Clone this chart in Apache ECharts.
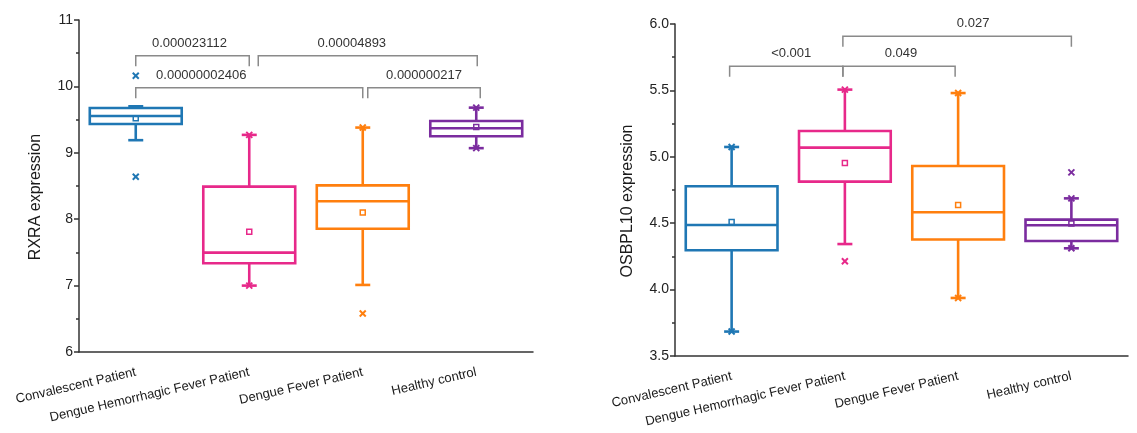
<!DOCTYPE html>
<html>
<head>
<meta charset="utf-8">
<script src="https://cdn.jsdelivr.net/npm/echarts@6/dist/echarts.min.js"></script>
<style>
  html, body { margin: 0; padding: 0; background: #fff; }
  #chart { width: 1137px; height: 433px; }
</style>
</head>
<body>
<div id="chart"></div>
<script>
const categories = ['Convalescent Patient', 'Dengue Hemorrhagic Fever Patient', 'Dengue Fever Patient', 'Healthy control'];
const colors = ['#1f77b4', '#e7298a', '#ff7f0e', '#7b2c9f'];

// per group: [lower whisker, Q1, median, Q3, upper whisker, mean]
const rxraBoxes = [
  [9.19, 9.434, 9.554, 9.675, 9.70, 9.52],
  [7.00, 7.336, 7.496, 8.49, 9.27, 7.81],
  [7.01, 7.857, 8.27, 8.51, 9.38, 8.10],
  [9.07, 9.25, 9.37, 9.48, 9.68, 9.39]
];
// x markers: [group, value]
const rxraMarks = [[0, 10.16], [0, 8.64], [1, 9.27], [1, 7.0], [2, 9.38], [2, 6.58], [3, 9.68], [3, 9.07]];
const rxraBrackets = [
  { from: 0, to: 1, level: 10.46, text: '0.000023112' },
  { from: 1, to: 3, level: 10.46, text: '0.00004893' },
  { from: 0, to: 2, level: 9.98, text: '0.00000002406' },
  { from: 2, to: 3, level: 9.98, text: '0.000000217' }
];

const osbBoxes = [
  [3.684, 4.296, 4.487, 4.778, 5.074, 4.509],
  [4.343, 4.813, 5.069, 5.194, 5.506, 4.953],
  [3.937, 4.377, 4.582, 4.931, 5.480, 4.637],
  [4.311, 4.366, 4.484, 4.527, 4.687, 4.497]
];
const osbMarks = [[0, 5.074], [0, 3.684], [1, 5.506], [1, 4.213], [2, 5.480], [2, 3.937], [3, 4.687], [3, 4.311], [3, 4.883]];
const osbBrackets = [
  { from: 0, to: 1, level: 5.681, text: '<0.001' },
  { from: 1, to: 2, level: 5.681, text: '0.049' },
  { from: 1, to: 3, level: 5.907, text: '0.027' }
];

const FONT = 'Liberation Sans, Arial, sans-serif';

// small pixel nudges for bracket legs / labels
const rxraLegNudge = [[0, 0], [9, 1], [0, 0], [5, 4]];
const rxraTextNudge = [-3, -16, -48, 0];
const osbLegNudge = [[-2, -2], [-2, -3], [-2, 0]];
const osbTextNudge = [5, 2, 16];

function boxRenderer(boxes) {
  return function (params, api) {
    const i = params.dataIndex;
    const b = boxes[i];
    const c = colors[i];
    const bw = api.size([1, 0])[0] * 0.81;
    const x = api.coord([i, b[2]])[0];
    const y = v => api.coord([i, v])[1];
    const st = { stroke: c, lineWidth: 2.6, fill: 'none' };
    const line = (x1, y1, x2, y2) => ({ type: 'line', shape: { x1, y1, x2, y2 }, style: st });
    const cap = 7.5;
    return {
      type: 'group',
      children: [
        line(x, y(b[3]), x, y(b[4])),
        line(x, y(b[1]), x, y(b[0])),
        line(x - cap, y(b[4]), x + cap, y(b[4])),
        line(x - cap, y(b[0]), x + cap, y(b[0])),
        { type: 'rect', shape: { x: x - bw / 2, y: y(b[3]), width: bw, height: y(b[1]) - y(b[3]) }, style: st },
        line(x - bw / 2, y(b[2]), x + bw / 2, y(b[2])),
        { type: 'rect', shape: { x: x - 2.5, y: y(b[5]) - 2.5, width: 5, height: 5 }, style: { stroke: c, lineWidth: 1.5, fill: 'none' } }
      ]
    };
  };
}

function markRenderer(marks) {
  return function (params, api) {
    const m = marks[params.dataIndex];
    const p = api.coord(m);
    const c = colors[m[0]];
    const s = 3;
    const st = { stroke: c, lineWidth: 2 };
    return {
      type: 'group',
      children: [
        { type: 'line', shape: { x1: p[0] - s, y1: p[1] - s, x2: p[0] + s, y2: p[1] + s }, style: st },
        { type: 'line', shape: { x1: p[0] - s, y1: p[1] + s, x2: p[0] + s, y2: p[1] - s }, style: st }
      ]
    };
  };
}

function bracketRenderer(brackets, legNudge, textNudge) {
  return function (params, api) {
    const k = params.dataIndex;
    const b = brackets[k];
    const p0 = api.coord([b.from, b.level]);
    const p1 = api.coord([b.to, b.level]);
    const x0 = p0[0] + legNudge[k][0];
    const x1 = p1[0] + legNudge[k][1];
    const yt = p0[1];
    const leg = 10.5;
    const st = { stroke: '#8a8a8a', lineWidth: 1.5, fill: 'none' };
    return {
      type: 'group',
      children: [
        { type: 'polyline', shape: { points: [[x0, yt + leg], [x0, yt], [x1, yt], [x1, yt + leg]] }, style: st },
        { type: 'text', style: { text: b.text, x: (x0 + x1) / 2 + textNudge[k], y: yt - 12.5, align: 'center', verticalAlign: 'middle', font: '13px ' + FONT, fill: '#333' } }
      ]
    };
  };
}

function xAxisDef(gridIndex) {
  return {
    type: 'category',
    gridIndex,
    data: categories,
    boundaryGap: true,
    axisLine: { lineStyle: { color: '#333', width: 1.5 } },
    axisTick: { alignWithLabel: true, length: 6, lineStyle: { color: '#333', width: 1.5 } },
    axisLabel: { rotate: 13, margin: 20, fontSize: 13, fontFamily: FONT, color: '#1a1a1a', interval: 0 },
    splitLine: { show: false }
  };
}

function yAxisDef(gridIndex, min, max, interval, name, nameGap, fmt) {
  return {
    type: 'value',
    gridIndex,
    min, max, interval,
    name,
    nameLocation: 'middle',
    nameGap,
    nameTextStyle: { fontSize: 16, fontFamily: FONT, color: '#1a1a1a', padding: [0, 22, 0, 0] },
    axisLine: { show: true, lineStyle: { color: '#333', width: 1.5 } },
    axisTick: { show: true, length: 5, lineStyle: { color: '#333', width: 1.5 } },
    minorTick: { show: true, splitNumber: 2, length: 3, lineStyle: { color: '#333', width: 1.5 } },
    axisLabel: { fontSize: 14, fontFamily: FONT, color: '#222', margin: 6, formatter: fmt },
    splitLine: { show: false }
  };
}

const chart = echarts.init(document.getElementById('chart'));

const option = {
  animation: false,
  backgroundColor: '#fff',
  grid: [
    { left: 79, top: 20, width: 454, height: 332 },
    { left: 675, top: 24, width: 453, height: 332 }
  ],
  xAxis: [xAxisDef(0), xAxisDef(1)],
  yAxis: [
    yAxisDef(0, 6, 11, 1, 'RXRA expression', 35, v => String(v)),
    yAxisDef(1, 3.5, 6.0, 0.5, 'OSBPL10 expression', 39, v => v.toFixed(1))
  ],
  series: [
    {
      type: 'custom', xAxisIndex: 0, yAxisIndex: 0,
      data: rxraBoxes.map((b, i) => [i].concat(b)),
      encode: { x: 0, y: [1, 2, 3, 4, 5, 6] },
      renderItem: boxRenderer(rxraBoxes)
    },
    {
      type: 'custom', xAxisIndex: 0, yAxisIndex: 0,
      data: rxraMarks,
      encode: { x: 0, y: 1 },
      renderItem: markRenderer(rxraMarks)
    },
    {
      type: 'custom', xAxisIndex: 0, yAxisIndex: 0,
      data: rxraBrackets.map(b => [b.from, b.level]),
      encode: { x: 0, y: 1 },
      renderItem: bracketRenderer(rxraBrackets, rxraLegNudge, rxraTextNudge)
    },
    {
      type: 'custom', xAxisIndex: 1, yAxisIndex: 1,
      data: osbBoxes.map((b, i) => [i].concat(b)),
      encode: { x: 0, y: [1, 2, 3, 4, 5, 6] },
      renderItem: boxRenderer(osbBoxes)
    },
    {
      type: 'custom', xAxisIndex: 1, yAxisIndex: 1,
      data: osbMarks,
      encode: { x: 0, y: 1 },
      renderItem: markRenderer(osbMarks)
    },
    {
      type: 'custom', xAxisIndex: 1, yAxisIndex: 1,
      data: osbBrackets.map(b => [b.from, b.level]),
      encode: { x: 0, y: 1 },
      renderItem: bracketRenderer(osbBrackets, osbLegNudge, osbTextNudge)
    }
  ]
};

chart.setOption(option);
</script>
</body>
</html>
